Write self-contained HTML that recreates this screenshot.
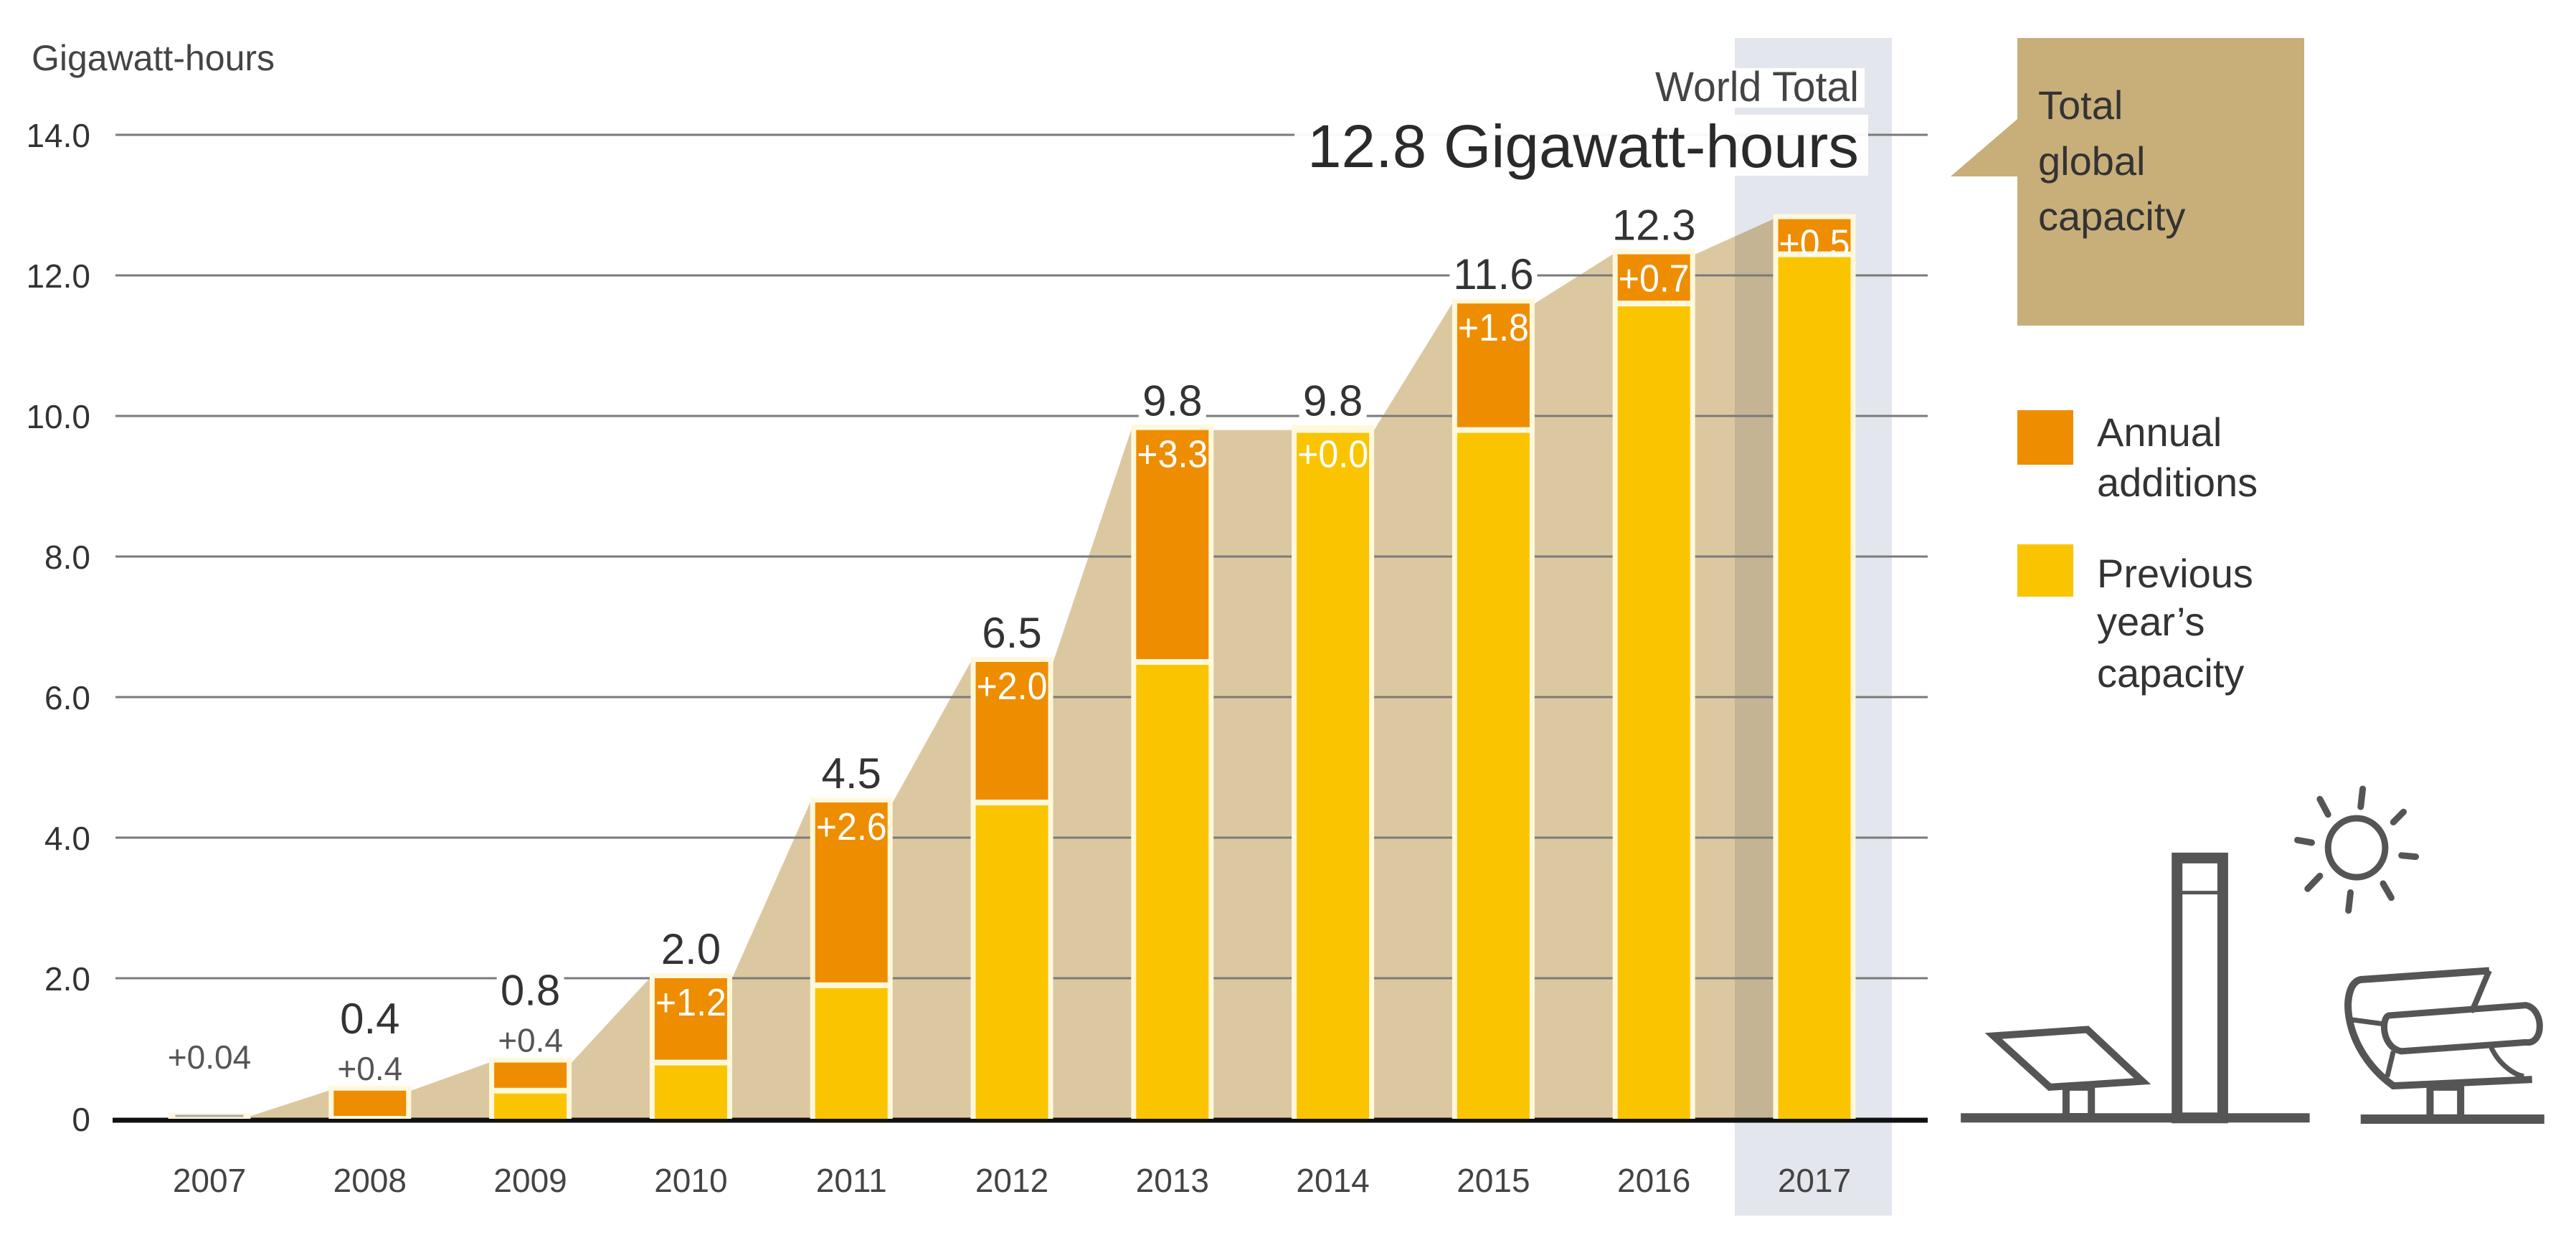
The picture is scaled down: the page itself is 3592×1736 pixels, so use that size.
<!DOCTYPE html>
<html><head><meta charset="utf-8"><style>
html,body{margin:0;padding:0;background:#fff}
svg{display:block}
text{font-family:"Liberation Sans Narrow","Liberation Sans",sans-serif}
</style></head><body>
<svg id="chart" width="3592" height="1736" viewBox="0 0 3592 1736" xmlns="http://www.w3.org/2000/svg">
<rect x="2419" y="53" width="219" height="1642" fill="#e3e6ec"/>
<g id="area"></g>
<g id="grid"></g>
<g id="bars"></g>
<g id="labels"></g>
<text x="44" y="98" font-size="50" fill="#444" style="font-family:'Liberation Sans',sans-serif">Gigawatt-hours</text>
<rect x="2290" y="95" width="310" height="55" fill="#fff"/>
<text x="2592" y="141" font-size="58" fill="#444" text-anchor="end" textLength="284" lengthAdjust="spacingAndGlyphs">World Total</text>
<rect x="1805" y="160" width="800" height="85" fill="#fff" opacity="0.95"/>
<text x="1823" y="233" font-size="84" fill="#2a2a2a" textLength="769" lengthAdjust="spacingAndGlyphs">12.8 Gigawatt-hours</text>
<polygon points="2720,246 2813,166 2813,246" fill="#c8ae79"/>
<rect x="2813" y="53" width="400" height="401" fill="#c8ae79"/>
<g font-size="56" fill="#333" style="font-family:'Liberation Sans',sans-serif">
<text x="2842" y="166">Total</text><text x="2842" y="244">global</text><text x="2842" y="321">capacity</text>
</g>
<rect x="2813" y="572" width="78" height="76" fill="#ee8d00"/>
<rect x="2813" y="759" width="78" height="73" fill="#fbc400"/>
<g font-size="56" fill="#333" style="font-family:'Liberation Sans',sans-serif">
<text x="2924" y="622">Annual</text><text x="2924" y="692">additions</text>
<text x="2924" y="819">Previous</text><text x="2924" y="886">year’s</text><text x="2924" y="958">capacity</text>
</g>
<g transform="translate(2700,1050) scale(0.569,0.357)" fill="none" stroke="#555">
<line x1="60" y1="1425" x2="915" y2="1425" stroke-width="13" vector-effect="non-scaling-stroke"/>
<line x1="1040" y1="1430" x2="1490" y2="1430" stroke-width="13" vector-effect="non-scaling-stroke"/>
<polygon points="140,1105 370,1080 505,1282 278,1305" stroke-width="10" vector-effect="non-scaling-stroke"/>
<rect x="318" y="1305" width="62" height="115" stroke-width="10" vector-effect="non-scaling-stroke"/>
<rect x="590" y="410" width="112" height="1015" stroke-width="15" vector-effect="non-scaling-stroke"/>
<line x1="590" y1="545" x2="702" y2="545" stroke-width="5" vector-effect="non-scaling-stroke"/>
<ellipse cx="1030" cy="370" rx="70" ry="115" stroke-width="9" vector-effect="non-scaling-stroke"/>
<g stroke-width="9" stroke-linecap="round" vector-effect="non-scaling-stroke">
<line x1="1045" y1="140" x2="1040" y2="210" vector-effect="non-scaling-stroke"/>
<line x1="1145" y1="230" x2="1120" y2="270" vector-effect="non-scaling-stroke"/>
<line x1="1140" y1="400" x2="1175" y2="405" vector-effect="non-scaling-stroke"/>
<line x1="1095" y1="510" x2="1115" y2="565" vector-effect="non-scaling-stroke"/>
<line x1="1015" y1="545" x2="1010" y2="615" vector-effect="non-scaling-stroke"/>
<line x1="940" y1="480" x2="910" y2="530" vector-effect="non-scaling-stroke"/>
<line x1="885" y1="340" x2="920" y2="350" vector-effect="non-scaling-stroke"/>
<line x1="940" y1="180" x2="960" y2="240" vector-effect="non-scaling-stroke"/>
</g>
<path d="M1355,850 L1040,885 C990,900 990,1150 1120,1300 L1460,1275" stroke-width="10" vector-effect="non-scaling-stroke"/>
<path d="M1355,850 C1330,940 1320,990 1310,1010" stroke-width="8" vector-effect="non-scaling-stroke"/>
<path d="M1110,1025 L1445,985 C1490,1000 1490,1140 1445,1130 L1140,1165 C1090,1150 1090,1030 1110,1025 Z" stroke-width="9" vector-effect="non-scaling-stroke"/>
<path d="M1010,1040 L1105,1060" stroke-width="7" vector-effect="non-scaling-stroke"/>
<path d="M1360,1150 C1380,1220 1420,1260 1440,1262" stroke-width="7" vector-effect="non-scaling-stroke"/>
<path d="M1120,1165 L1105,1265" stroke-width="7" vector-effect="non-scaling-stroke"/>
<rect x="1210" y="1305" width="75" height="120" stroke-width="10" vector-effect="non-scaling-stroke"/>
</g>
</svg>
<script>
const years = ["2007","2008","2009","2010","2011","2012","2013","2014","2015","2016","2017"];
const totals = [0.04, 0.4, 0.8, 2.0, 4.5, 6.5, 9.8, 9.8, 11.6, 12.3, 12.8];
const additions = [0.04, 0.4, 0.4, 1.2, 2.6, 2.0, 3.3, 0.0, 1.8, 0.7, 0.5];
const totalLabels = ["", "0.4", "0.8", "2.0", "4.5", "6.5", "9.8", "9.8", "11.6", "12.3", ""];
const addLabels = ["+0.04","+0.4","+0.4","+1.2","+2.6","+2.0","+3.3","+0.0","+1.8","+0.7","+0.5"];
const yTicks = [0, 2, 4, 6, 8, 10, 12, 14];
const yTickLabels = ["0","2.0","4.0","6.0","8.0","10.0","12.0","14.0"];

const NS = "http://www.w3.org/2000/svg";
const Y0 = 1560, UNIT = 98.0;
const yS = v => Y0 - v * UNIT;
const xC = i => 292 + 223.8 * i;
const BW = 115, BH = BW / 2;
function mk(tag, attrs, parent) {
  const e = document.createElementNS(NS, tag);
  for (const k in attrs) e.setAttribute(k, attrs[k]);
  parent.appendChild(e);
  return e;
}
const area = document.getElementById('area'), grid = document.getElementById('grid'),
      bars = document.getElementById('bars'), labels = document.getElementById('labels');

// area
let pts = [[xC(0) + BH, Y0]];
totals.forEach((t, i) => { pts.push([xC(i) - BH, yS(t)]); pts.push([xC(i) + BH, yS(t)]); });
pts.push([xC(totals.length - 1) + BH, Y0]);
const poly = mk('polygon', {points: pts.map(p => p.join(',')).join(' '), fill: '#dcc8a0', style: 'mix-blend-mode:multiply'}, area);



// grid & ticks
yTicks.forEach((v, k) => {
  if (v > 0) {
    const l = mk('line', {x1: 161, x2: 2688, y1: yS(v), y2: yS(v), stroke: '#7a7a7a', 'stroke-width': 3}, grid);
    
    
  }
  const t = mk('text', {x: 126, y: yS(v) + 17, 'font-size': 46, fill: '#333', 'text-anchor': 'end'}, grid);
  t.textContent = yTickLabels[k];
  
  
});
const base = mk('line', {x1: 157, x2: 2688, y1: Y0 + 2, y2: Y0 + 2, stroke: '#111', 'stroke-width': 7}, grid);



// bars
years.forEach((yr, i) => {
  const cx = xC(i), top = yS(totals[i]), mid = yS(totals[i] - additions[i]);
  const g = mk('g', {}, bars);
  
  
  if (i === 0) {
    mk('rect', {x: cx - BH, y: top - 4, width: BW, height: Y0 - top + 4, fill: '#fff8dc'}, g);
    mk('line', {x1: cx - BH + 10, x2: cx + BH - 10, y1: Y0 - 4, y2: Y0 - 4, stroke: '#aaa', 'stroke-width': 3}, g);
  } else {
    mk('rect', {x: cx - BH, y: top - 7, width: BW, height: Y0 - top + 7, fill: '#fff8dc'}, g);
    const prev = totals[i] - additions[i];
    if (prev > 0.05) {
      const r = mk('rect', {x: cx - BH + 7, y: mid + 4, width: BW - 14, height: Math.max(0, Y0 - mid - 4), fill: '#fbc400'}, g);
      
      
    }
    if (additions[i] > 0) {
      const r = mk('rect', {x: cx - BH + 7, y: top, width: BW - 14, height: Math.max(0, mid - top - 4), fill: '#ee8d00'}, g);
      
      
    }
  }
  // year label
  const yl = mk('text', {x: cx, y: 1662, 'font-size': 46, fill: '#444', 'text-anchor': 'middle'}, labels);
  yl.textContent = yr;
  
  
  // addition labels
  if (i <= 2) {
    const al = mk('text', {x: cx, y: top - (i === 0 ? 66 : 15), 'font-size': 46, fill: '#555', 'text-anchor': 'middle'}, labels);
    al.textContent = addLabels[i];
    
    
  } else {
    const al = mk('text', {x: cx, y: top + 52, 'font-size': 54, fill: '#fff', 'text-anchor': 'middle', textLength: BW - 16, lengthAdjust: 'spacingAndGlyphs'}, labels);
    al.textContent = addLabels[i];
    
    
  }
  // total labels
  if (totalLabels[i]) {
    const ty = i <= 2 ? top - 80 : top - 20;
    const w = totalLabels[i].length * 28 + 10;
    mk('rect', {x: cx - w / 2, y: ty - 46, width: w, height: 50, fill: '#fff'}, labels);
    const tl = mk('text', {x: cx, y: ty, 'font-size': 60, fill: '#333', 'text-anchor': 'middle'}, labels);
    tl.textContent = totalLabels[i];
    
    
  }
});
</script>
</body></html>
